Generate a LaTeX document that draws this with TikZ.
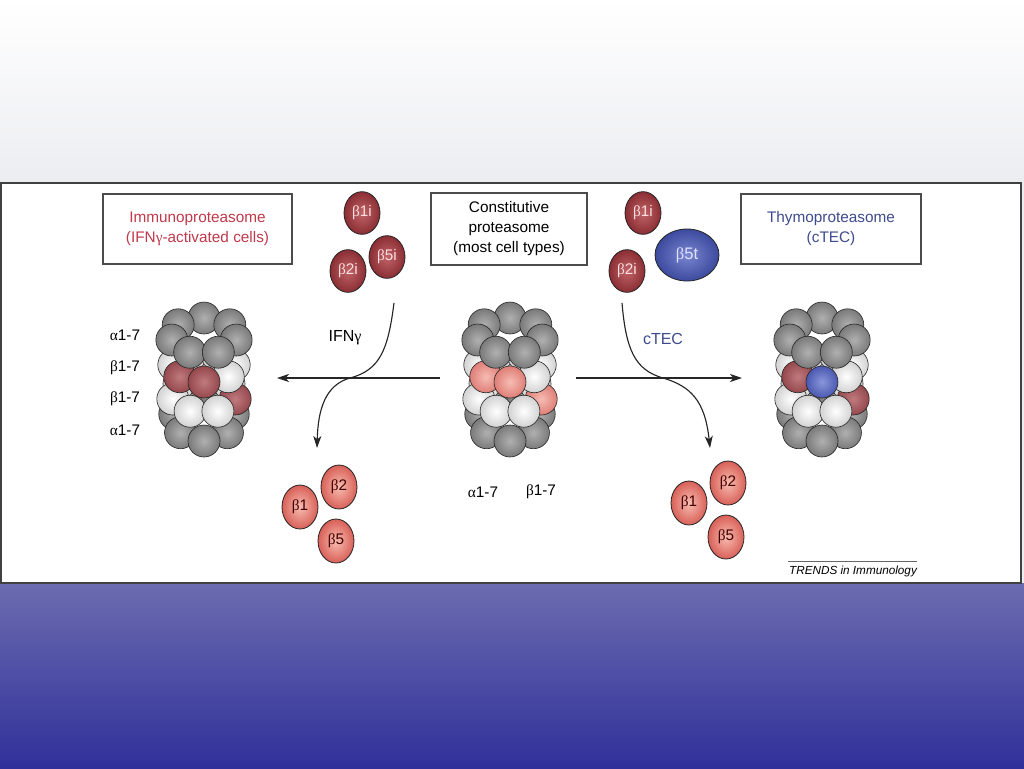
\documentclass[tikz,border=0pt]{standalone}
\usepackage{fontspec}
\setmainfont{Liberation Sans}
\newfontfamily\grk{Liberation Serif}
\usetikzlibrary{shapes.geometric,arrows.meta}
\newcommand\grbeta{{\grk β}}
\newcommand\gralpha{{\grk α}}
\newcommand\grgamma{{\grk γ}}
\definecolor{gIn}{HTML}{B0B0B0}\definecolor{gOut}{HTML}{7A7A7A}
\definecolor{wIn}{HTML}{FFFFFF}\definecolor{wOut}{HTML}{D2D2D2}
\definecolor{rIn}{HTML}{C07A7E}\definecolor{rOut}{HTML}{94484C}
\definecolor{sIn}{HTML}{F6BCB4}\definecolor{sOut}{HTML}{DE7E76}
\definecolor{bIn}{HTML}{8A96DA}\definecolor{bOut}{HTML}{4A58B0}
\definecolor{drIn}{HTML}{C06468}\definecolor{drOut}{HTML}{8A2E34}
\definecolor{ltIn}{HTML}{F8BCB0}\definecolor{ltOut}{HTML}{D86058}
\definecolor{blIn}{HTML}{7A86D0}\definecolor{blOut}{HTML}{3C4A9E}
\definecolor{redtxt}{HTML}{C0394B}
\definecolor{bluetxt}{HTML}{3F4B8F}
\definecolor{bgA}{HTML}{ECEDF1}
\definecolor{bandA}{HTML}{6C6CB0}
\definecolor{bandB}{HTML}{30309A}
\newcommand\spherexy[6]{\shade[#6] ({#1+#3*cos(#5)},{#2+#4*sin(#5)}) circle (16);}
\newcommand\proteasome[4]{%
  \foreach \a in {244.29,-64.29,192.86,-12.86,141.43,38.57,90}
    {\spherexy{#1}{419}{30}{22}{\a}{gS}}
  \foreach \a/\s in {270/wS,218.57/wS,-38.57/wS,167.14/wS,12.86/#4,115.71/wS,64.29/wS}
    {\spherexy{#1}{395}{32}{18}{\a}{\s}}
  \foreach \a/\s in {244.29/wS,-64.29/wS,192.86/wS,-12.86/wS,141.43/#3,38.57/wS,90/#2}
    {\spherexy{#1}{368}{31}{14}{\a}{\s}}
  \foreach \a in {270,218.57,-38.57,167.14,12.86,115.71,64.29}
    {\spherexy{#1}{336}{33}{18}{\a}{gS}}
}
\begin{document}
\begin{tikzpicture}[x=0.75pt,y=-0.75pt,
  txt/.style={font=\fontsize{11.5}{15}\selectfont},
  box/.style={txt, draw=black!70, line width=0.8pt, align=center, inner sep=0pt},
  lbl/.style={txt, inner sep=1pt},
  sph/.style={draw=black!85, line width=0.45pt},
  gS/.style={sph, inner color=gIn, outer color=gOut},
  wS/.style={sph, inner color=wIn, outer color=wOut},
  rS/.style={sph, inner color=rIn, outer color=rOut},
  sS/.style={sph, inner color=sIn, outer color=sOut},
  bS/.style={sph, inner color=bIn, outer color=bOut},
  sub/.style={ellipse, draw=black!85, line width=0.6pt, inner sep=0pt,
    minimum width=27pt, minimum height=32pt, font=\fontsize{11.5}{13}\selectfont},
  subD/.style={sub, inner color=drIn, outer color=drOut, text=white!88!red},
  subL/.style={sub, inner color=ltIn, outer color=ltOut, text=black!75!red,
    minimum height=33pt},
  subB/.style={sub, inner color=blIn, outer color=blOut, text=white!88!blue,
    minimum width=48pt, minimum height=39pt, font=\fontsize{12.5}{14}\selectfont},
  arr/.style={draw=black!85, line width=0.85pt, -{Stealth[length=9pt,width=6pt,inset=2.5pt]}}
]
\useasboundingbox (0,0) rectangle (1024,768);
% backgrounds
\shade[top color=white, bottom color=bgA] (0,0) rectangle (1024,183);
\shade[top color=bandA, bottom color=bandB] (0,583) rectangle (1024,768);
\fill[bgA] (1021,183) rectangle (1024,583);
\draw[draw=black!75, line width=1.1pt, fill=white] (1,183) rectangle (1021,583);

% header boxes
\node[box, text=redtxt, minimum width=141.75pt, minimum height=52.5pt] (immbox) at (197.5,229)
  {Immunoproteasome\\(IFN\grgamma-activated cells)};
\node[box, minimum width=117pt, minimum height=54pt] (conbox) at (509,229)
  {Constitutive\\proteasome\\(most cell types)};
\node[box, text=bluetxt, minimum width=135pt, minimum height=52.5pt] (thybox) at (831,229)
  {Thymoproteasome\\(cTEC)};

% free subunits (top)
\node[subD] (i1) at (362,213) {\grbeta1i};
\node[subD] (i5) at (387,257) {\grbeta5i};
\node[subD] (i2) at (348,271) {\grbeta2i};
\node[subD] (t1) at (643,213) {\grbeta1i};
\node[subD] (t2) at (627,271) {\grbeta2i};
\node[subB] (t5) at (687,255) {\grbeta5t};

% free subunits (bottom)
\node[subL] (l1) at (300,507) {\grbeta1};
\node[subL] (l2) at (339,487) {\grbeta2};
\node[subL] (l5) at (336,541) {\grbeta5};
\node[subL] (r1) at (689,503) {\grbeta1};
\node[subL] (r2) at (728,483) {\grbeta2};
\node[subL] (r5) at (726,537) {\grbeta5};

% proteasomes
\proteasome{204}{rS}{rS}{rS}
\proteasome{510}{sS}{sS}{sS}
\proteasome{822}{bS}{rS}{rS}

% labels
\node[lbl] (la1) at (125,335) {\gralpha1-7};
\node[lbl] (lb1) at (125,368) {\grbeta1-7};
\node[lbl] (lb2) at (125,399) {\grbeta1-7};
\node[lbl] (la2) at (125,430) {\gralpha1-7};
\node[lbl] (ca) at (483,492) {\gralpha1-7};
\node[lbl] (cb) at (541,492) {\grbeta1-7};
\node[lbl, font=\fontsize{12}{14}\selectfont] (ifn) at (345,338) {IFN\grgamma};
\node[lbl, font=\fontsize{12}{14}\selectfont, text=bluetxt] (ctec) at (663,339) {cTEC};
\node[font=\fontsize{8.8}{10}\selectfont\itshape, inner sep=1pt] (trends) at (853,571) {TRENDS in Immunology};
\coordinate (ruleL) at (788,561);
\coordinate (ruleR) at (917,561);
\draw[black!60, line width=0.5pt] (ruleL) -- (ruleR);

% connectors
\coordinate (cW) at (440,378);
\coordinate (iE) at (277,378);
\coordinate (cE) at (576,378);
\coordinate (tW) at (742,378);
\coordinate (ifnS) at (394,303);
\coordinate (ifnE) at (317,448);
\coordinate (ctS) at (622,303);
\coordinate (ctE) at (710,448);
\draw[arr] (cW) -- (iE);
\draw[arr] (cE) -- (tW);
\draw[arr] (ifnS) .. controls (388,350) and (380,370) .. (350,378)
  .. controls (325,385) and (318,410) .. (ifnE);
\draw[arr] (ctS) .. controls (626,350) and (635,370) .. (663,378)
  .. controls (690,386) and (705,400) .. (ctE);
\end{tikzpicture}
\end{document}
